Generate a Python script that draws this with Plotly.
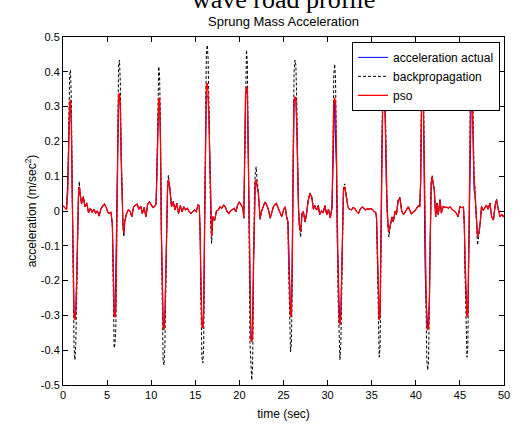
import plotly.graph_objects as go

# ---------------- data ----------------
time_sec = [
    0.0, 0.2, 0.4, 0.55, 0.65, 0.75, 0.85, 0.95, 1.05, 1.15, 1.25, 1.35, 1.45, 1.55, 1.65, 1.75, 1.85, 1.95, 2.1, 2.3, 2.5, 2.7, 2.9, 3.1, 3.3, 3.5, 3.7, 3.9, 4.1, 4.3, 4.5, 4.7, 4.9, 5.1, 5.3, 5.45,
    5.6, 5.7, 5.8, 5.9, 6.0, 6.1, 6.2, 6.3, 6.4, 6.5, 6.6, 6.7, 6.8, 6.9, 7.0, 7.2, 7.4, 7.6, 7.8, 8.0, 8.2, 8.4, 8.6, 8.8, 9.0, 9.2, 9.4, 9.6, 9.8, 10.0, 10.2, 10.4, 10.55,
    10.65, 10.75, 10.85, 10.95, 11.05, 11.15, 11.25, 11.35, 11.45, 11.55, 11.65, 11.75, 11.85, 11.95, 12.05, 12.15, 12.3, 12.5, 12.7, 12.9, 13.1, 13.3, 13.5, 13.7, 13.9, 14.1, 14.3, 14.5, 14.7, 14.9, 15.1, 15.3, 15.45,
    15.55, 15.65, 15.75, 15.85, 15.95, 16.05, 16.15, 16.25, 16.35, 16.45, 16.55, 16.65, 16.75, 16.85, 17.0, 17.2, 17.4, 17.6, 17.8, 18.0, 18.2, 18.4, 18.6, 18.8, 19.0, 19.2, 19.4, 19.6, 19.8, 20.0, 20.2, 20.4, 20.5,
    20.6, 20.7, 20.8, 20.9, 21.0, 21.1, 21.2, 21.3, 21.4, 21.5, 21.6, 21.7, 21.8, 21.9, 22.0, 22.15, 22.35, 22.5, 22.7, 22.9, 23.1, 23.3, 23.5, 23.7, 23.85, 24.0, 24.2, 24.4, 24.6, 24.8, 25.0, 25.2, 25.35, 25.5,
    25.6, 25.7, 25.8, 25.9, 26.0, 26.1, 26.2, 26.3, 26.4, 26.5, 26.6, 26.7, 26.8, 26.95, 27.1, 27.25, 27.45, 27.6, 27.8, 28.0, 28.2, 28.4, 28.55, 28.75, 28.95, 29.1, 29.3, 29.5, 29.7, 29.9, 30.1, 30.3, 30.5,
    30.6, 30.7, 30.8, 30.9, 31.0, 31.1, 31.2, 31.3, 31.4, 31.5, 31.6, 31.7, 31.8, 31.95, 32.1, 32.3, 32.5, 32.7, 32.9, 33.1, 33.3, 33.5, 33.7, 33.9, 34.1, 34.3, 34.5, 34.7, 34.9, 35.1, 35.3, 35.45,
    35.55, 35.65, 35.75, 35.85, 35.95, 36.05, 36.15, 36.25, 36.35, 36.45, 36.55, 36.65, 36.75, 36.85, 36.95, 37.1, 37.3, 37.45, 37.65, 37.8, 38.0, 38.2, 38.4, 38.6, 38.8, 39.0, 39.15, 39.3, 39.5, 39.7, 39.9, 40.1, 40.3, 40.45,
    40.55, 40.65, 40.75, 40.85, 40.95, 41.05, 41.15, 41.25, 41.35, 41.45, 41.55, 41.65, 41.75, 41.85, 42.0, 42.1, 42.25, 42.4, 42.55, 42.75, 42.9, 43.1, 43.3, 43.5, 43.7, 43.9, 44.1, 44.25, 44.45, 44.6, 44.8, 45.0, 45.2, 45.4,
    45.5, 45.6, 45.7, 45.8, 45.9, 46.0, 46.1, 46.2, 46.3, 46.4, 46.5, 46.6, 46.7, 46.85, 47.0, 47.15, 47.3, 47.45, 47.65, 47.8, 48.0, 48.2, 48.4, 48.6, 48.8, 49.0, 49.15, 49.35, 49.55, 49.75, 49.9, 50.0,
]

accel_actual = [
    0.015, 0.010, 0.004, 0.100, 0.230, 0.300, 0.318, 0.240, 0.040, -0.180, -0.290, -0.310, -0.280, -0.200, -0.060, 0.035, 0.068, 0.040, 0.020, 0.038, 0.012, 0.022, -0.005, 0.008, -0.004, 0.005, -0.006, 0.000, -0.014, 0.006, 0.015, 0.020, 0.010, -0.005, -0.006, -0.004,
    -0.040, -0.190, -0.295, -0.300, -0.110, 0.000, 0.127, 0.330, 0.335, 0.290, 0.147, 0.030, -0.040, -0.064, -0.030, -0.008, 0.003, 0.000, -0.016, 0.012, 0.017, 0.020, 0.005, 0.014, -0.007, 0.010, -0.016, 0.020, 0.026, 0.018, 0.010, 0.013, 0.020,
    0.127, 0.276, 0.320, 0.315, 0.204, -0.050, -0.270, -0.310, -0.335, -0.300, -0.190, -0.045, 0.058, 0.088, 0.078, 0.055, 0.012, 0.027, 0.003, 0.022, -0.007, 0.015, -0.002, 0.012, 0.003, 0.008, -0.002, -0.007, -0.002, 0.003, -0.002, 0.017, 0.015,
    -0.064, -0.220, -0.320, -0.330, -0.290, -0.050, 0.156, 0.340, 0.328, 0.330, 0.276, 0.127, -0.030, -0.070, -0.016, -0.026, 0.000, 0.003, 0.012, 0.008, 0.017, 0.012, -0.002, -0.007, 0.000, 0.003, 0.008, -0.002, 0.017, 0.026, 0.017, 0.008, -0.020,
    0.195, 0.333, 0.350, 0.340, 0.166, -0.055, -0.290, -0.360, -0.370, -0.313, -0.150, 0.030, 0.083, 0.088, 0.074, 0.050, -0.022, -0.002, 0.012, 0.026, 0.017, 0.003, -0.020, -0.002, 0.012, 0.017, 0.022, 0.008, -0.002, -0.016, 0.003, 0.012, -0.016, -0.030,
    -0.100, -0.270, -0.300, -0.295, -0.016, 0.190, 0.315, 0.325, 0.322, 0.240, 0.100, 0.010, -0.040, -0.060, -0.007, -0.002, -0.030, -0.010, 0.030, 0.050, 0.040, 0.005, 0.015, 0.003, 0.015, -0.010, 0.000, -0.005, 0.015, -0.010, 0.005, -0.020, 0.010,
    0.127, 0.300, 0.320, 0.200, 0.127, -0.093, -0.150, -0.260, -0.320, -0.290, -0.150, 0.000, 0.058, 0.068, 0.045, 0.012, 0.005, 0.003, 0.010, 0.007, -0.002, -0.007, 0.005, 0.012, 0.008, 0.003, 0.006, 0.005, 0.007, 0.004, -0.002, -0.004,
    -0.020, -0.140, -0.270, -0.310, -0.290, 0.000, 0.170, 0.310, 0.335, 0.325, 0.240, 0.080, 0.000, -0.040, -0.060, -0.040, -0.017, -0.030, 0.000, -0.010, 0.030, 0.037, 0.000, -0.010, 0.000, 0.006, 0.012, 0.005, -0.008, -0.003, 0.000, 0.008, 0.015, 0.012,
    0.080, 0.290, 0.335, 0.320, -0.093, -0.160, -0.250, -0.320, -0.335, -0.320, -0.240, -0.060, 0.078, 0.095, 0.070, 0.060, -0.016, 0.022, -0.010, 0.032, -0.006, 0.013, 0.010, 0.011, 0.008, 0.012, 0.005, 0.003, -0.002, -0.007, -0.016, 0.012, 0.010, 0.011,
    -0.035, -0.180, -0.270, -0.300, -0.290, -0.120, 0.080, 0.290, 0.330, 0.325, 0.190, 0.060, 0.050, -0.030, -0.074, -0.060, -0.035, 0.013, 0.002, 0.008, 0.017, 0.005, 0.022, -0.016, -0.026, 0.017, 0.032, 0.005, -0.016, -0.010, -0.016, -0.012,
]

accel_backprop = [
    0.015, 0.010, 0.004, 0.070, 0.260, 0.390, 0.405, 0.310, 0.060, -0.230, -0.390, -0.428, -0.380, -0.250, -0.070, 0.050, 0.085, 0.045, 0.022, 0.042, 0.012, 0.024, -0.006, 0.009, -0.004, 0.006, -0.007, 0.000, -0.015, 0.007, 0.016, 0.021, 0.011, -0.005, -0.007, -0.004,
    -0.045, -0.260, -0.394, -0.380, -0.330, -0.060, 0.250, 0.420, 0.434, 0.370, 0.170, 0.030, -0.050, -0.074, -0.035, -0.009, 0.003, 0.000, -0.017, 0.013, 0.018, 0.021, 0.005, 0.015, -0.008, 0.011, -0.017, 0.021, 0.027, 0.019, 0.011, 0.014, 0.021,
    0.110, 0.340, 0.415, 0.390, 0.250, -0.060, -0.350, -0.430, -0.443, -0.390, -0.230, -0.050, 0.070, 0.103, 0.085, 0.058, 0.012, 0.028, 0.003, 0.023, -0.008, 0.016, -0.002, 0.013, 0.003, 0.009, -0.002, -0.008, -0.002, 0.003, -0.002, 0.018, 0.016,
    -0.065, -0.280, -0.420, -0.437, -0.390, -0.070, 0.260, 0.450, 0.477, 0.440, 0.300, 0.110, -0.040, -0.093, -0.018, -0.028, 0.000, 0.003, 0.013, 0.009, 0.018, 0.013, -0.002, -0.008, 0.000, 0.003, 0.009, -0.002, 0.018, 0.027, 0.018, 0.009, -0.021,
    0.180, 0.420, 0.463, 0.430, 0.220, -0.070, -0.380, -0.470, -0.486, -0.440, -0.180, 0.040, 0.110, 0.127, 0.090, 0.055, -0.024, -0.002, 0.013, 0.027, 0.018, 0.003, -0.021, -0.002, 0.013, 0.018, 0.023, 0.009, -0.002, -0.017, 0.003, 0.013, -0.017, -0.032,
    -0.190, -0.360, -0.405, -0.380, -0.190, 0.180, 0.400, 0.434, 0.420, 0.320, 0.140, 0.010, -0.050, -0.075, -0.008, -0.002, -0.032, -0.011, 0.032, 0.052, 0.042, 0.005, 0.016, 0.003, 0.016, -0.011, 0.000, -0.005, 0.016, -0.011, 0.005, -0.021, 0.011,
    0.140, 0.390, 0.422, 0.380, 0.220, -0.060, -0.260, -0.400, -0.428, -0.380, -0.180, 0.000, 0.070, 0.078, 0.050, 0.013, 0.005, 0.003, 0.011, 0.007, -0.002, -0.007, 0.005, 0.013, 0.008, 0.003, 0.006, 0.005, 0.007, 0.004, -0.002, -0.004,
    -0.022, -0.170, -0.360, -0.420, -0.390, -0.130, 0.190, 0.400, 0.430, 0.410, 0.300, 0.090, 0.000, -0.050, -0.075, -0.045, -0.018, -0.032, 0.000, -0.011, 0.032, 0.040, 0.000, -0.011, 0.000, 0.006, 0.013, 0.005, -0.009, -0.003, 0.000, 0.009, 0.016, 0.013,
    0.090, 0.380, 0.430, 0.410, 0.120, -0.130, -0.260, -0.430, -0.457, -0.430, -0.300, -0.070, 0.090, 0.103, 0.075, 0.062, -0.017, 0.023, -0.011, 0.034, -0.006, 0.014, 0.010, 0.012, 0.008, 0.013, 0.005, 0.003, -0.002, -0.007, -0.017, 0.013, 0.011, 0.012,
    -0.040, -0.200, -0.370, -0.420, -0.390, -0.200, 0.090, 0.370, 0.420, 0.410, 0.240, 0.110, 0.065, -0.040, -0.098, -0.070, -0.038, 0.014, 0.002, 0.008, 0.018, 0.005, 0.023, -0.017, -0.027, 0.018, 0.034, 0.005, -0.017, -0.010, -0.017, -0.013,
]

accel_pso = [
    0.015, 0.010, 0.004, 0.060, 0.200, 0.310, 0.320, 0.250, 0.050, -0.180, -0.300, -0.313, -0.290, -0.200, -0.060, 0.040, 0.070, 0.040, 0.020, 0.040, 0.012, 0.022, -0.005, 0.008, -0.004, 0.005, -0.006, 0.000, -0.014, 0.006, 0.015, 0.020, 0.010, -0.005, -0.006, -0.004,
    -0.040, -0.200, -0.300, -0.305, -0.280, -0.050, 0.200, 0.335, 0.338, 0.300, 0.150, 0.030, -0.040, -0.064, -0.030, -0.008, 0.003, 0.000, -0.016, 0.012, 0.017, 0.020, 0.005, 0.014, -0.007, 0.010, -0.016, 0.020, 0.026, 0.018, 0.010, 0.013, 0.020,
    0.100, 0.280, 0.325, 0.320, 0.200, -0.050, -0.280, -0.335, -0.342, -0.310, -0.190, -0.045, 0.060, 0.090, 0.080, 0.055, 0.012, 0.027, 0.003, 0.022, -0.007, 0.015, -0.002, 0.012, 0.003, 0.008, -0.002, -0.007, -0.002, 0.003, -0.002, 0.017, 0.015,
    -0.060, -0.220, -0.330, -0.337, -0.300, -0.050, 0.200, 0.360, 0.368, 0.340, 0.250, 0.100, -0.030, -0.074, -0.016, -0.026, 0.000, 0.003, 0.012, 0.008, 0.017, 0.012, -0.002, -0.007, 0.000, 0.003, 0.008, -0.002, 0.017, 0.026, 0.017, 0.008, -0.020,
    0.150, 0.340, 0.357, 0.350, 0.180, -0.060, -0.300, -0.370, -0.376, -0.360, -0.150, 0.030, 0.085, 0.090, 0.075, 0.050, -0.022, -0.002, 0.012, 0.026, 0.017, 0.003, -0.020, -0.002, 0.012, 0.017, 0.022, 0.008, -0.002, -0.016, 0.003, 0.012, -0.016, -0.030,
    -0.150, -0.280, -0.304, -0.300, -0.150, 0.150, 0.320, 0.328, 0.325, 0.260, 0.120, 0.010, -0.040, -0.060, -0.007, -0.002, -0.030, -0.010, 0.030, 0.050, 0.040, 0.005, 0.015, 0.003, 0.015, -0.010, 0.000, -0.005, 0.015, -0.010, 0.005, -0.020, 0.010,
    0.120, 0.310, 0.325, 0.310, 0.180, -0.050, -0.200, -0.310, -0.328, -0.300, -0.150, 0.000, 0.060, 0.070, 0.045, 0.012, 0.005, 0.003, 0.010, 0.007, -0.002, -0.007, 0.005, 0.012, 0.008, 0.003, 0.006, 0.005, 0.007, 0.004, -0.002, -0.004,
    -0.020, -0.130, -0.280, -0.313, -0.300, -0.100, 0.150, 0.320, 0.340, 0.330, 0.250, 0.080, 0.000, -0.040, -0.060, -0.040, -0.017, -0.030, 0.000, -0.010, 0.030, 0.037, 0.000, -0.010, 0.000, 0.006, 0.012, 0.005, -0.008, -0.003, 0.000, 0.008, 0.015, 0.012,
    0.080, 0.300, 0.340, 0.330, 0.100, -0.100, -0.200, -0.330, -0.342, -0.335, -0.250, -0.060, 0.080, 0.098, 0.070, 0.060, -0.016, 0.022, -0.010, 0.032, -0.006, 0.013, 0.010, 0.011, 0.008, 0.012, 0.005, 0.003, -0.002, -0.007, -0.016, 0.012, 0.010, 0.011,
    -0.035, -0.150, -0.280, -0.304, -0.300, -0.150, 0.080, 0.300, 0.335, 0.330, 0.200, 0.100, 0.060, -0.030, -0.074, -0.060, -0.035, 0.013, 0.002, 0.008, 0.017, 0.005, 0.022, -0.016, -0.026, 0.017, 0.032, 0.005, -0.016, -0.010, -0.016, -0.012,
]

series_names = ["acceleration actual", "backpropagation", "pso"]
x_ticks = [0, 5, 10, 15, 20, 25, 30, 35, 40, 45, 50]
x_tick_labels = ["0", "5", "10", "15", "20", "25", "30", "35", "40", "45", "50"]
y_ticks = [-0.5, -0.4, -0.3, -0.2, -0.1, 0, 0.1, 0.2, 0.3, 0.4, 0.5]
y_tick_labels = ["-0.5", "-0.4", "-0.3", "-0.2", "-0.1", "0", "0.1", "0.2", "0.3", "0.4", "0.5"]

assert len(time_sec) == len(accel_actual) == len(accel_backprop) == len(accel_pso), (
    len(time_sec), len(accel_actual), len(accel_backprop), len(accel_pso))

# ---------------- figure ----------------
SANS = "Liberation Sans, Arial, sans-serif"
SERIF = "Liberation Serif, Times New Roman, serif"

fig = go.Figure()
fig.add_trace(go.Scatter(x=time_sec, y=accel_actual, mode="lines", name=series_names[0],
                         line=dict(color="#0000ff", width=1)))
fig.add_trace(go.Scatter(x=time_sec, y=accel_backprop, mode="lines", name=series_names[1],
                         line=dict(color="#000000", width=1, dash="3px,2px")))
fig.add_trace(go.Scatter(x=time_sec, y=accel_pso, mode="lines", name=series_names[2],
                         line=dict(color="#ff0000", width=1.3)))

axis_common = dict(
    showline=True, linecolor="black", linewidth=1, mirror="ticks",
    ticks="inside", ticklen=5, tickwidth=1, tickcolor="black",
    showgrid=False, zeroline=False, automargin=False,
    tickfont=dict(family=SANS, size=11, color="black"),
)

fig.update_layout(
    width=514, height=424, autosize=False,
    margin=dict(l=63, r=10, t=37, b=39, pad=0),
    paper_bgcolor="white", plot_bgcolor="white",
    font=dict(family=SANS, size=11, color="black"),
    xaxis=dict(range=[0, 50], tickvals=x_ticks, ticktext=x_tick_labels,
               title=dict(text="time (sec)", font=dict(family=SANS, size=12), standoff=9),
               **axis_common),
    yaxis=dict(range=[-0.5, 0.5], tickvals=y_ticks, ticktext=y_tick_labels,
               title=dict(text="acceleration (m/sec<sup>2</sup>)", font=dict(family=SANS, size=12), standoff=1),
               **axis_common),
    legend=dict(x=0.991, y=0.986, xanchor="right", yanchor="top",
                bgcolor="white", bordercolor="black", borderwidth=1,
                font=dict(family=SANS, size=12, color="black"),
                itemwidth=30, tracegroupgap=0),
    showlegend=True,
    annotations=[
        dict(text="wave road profile", xref="paper", yref="paper", x=0.5, y=1,
             xanchor="center", yanchor="bottom", yshift=21, showarrow=False,
             font=dict(family=SERIF, size=26, color="black")),
        dict(text="Sprung Mass Acceleration", xref="paper", yref="paper", x=0.5, y=1,
             xanchor="center", yanchor="bottom", yshift=6, showarrow=False,
             font=dict(family=SANS, size=13, color="black")),
    ],
)

# remove the default page margin so the figure sits at the window's top-left corner
fig.write_html("out.html",
               config={"displayModeBar": False},
               post_script="document.body.style.margin='0';document.body.style.overflow='hidden';")
